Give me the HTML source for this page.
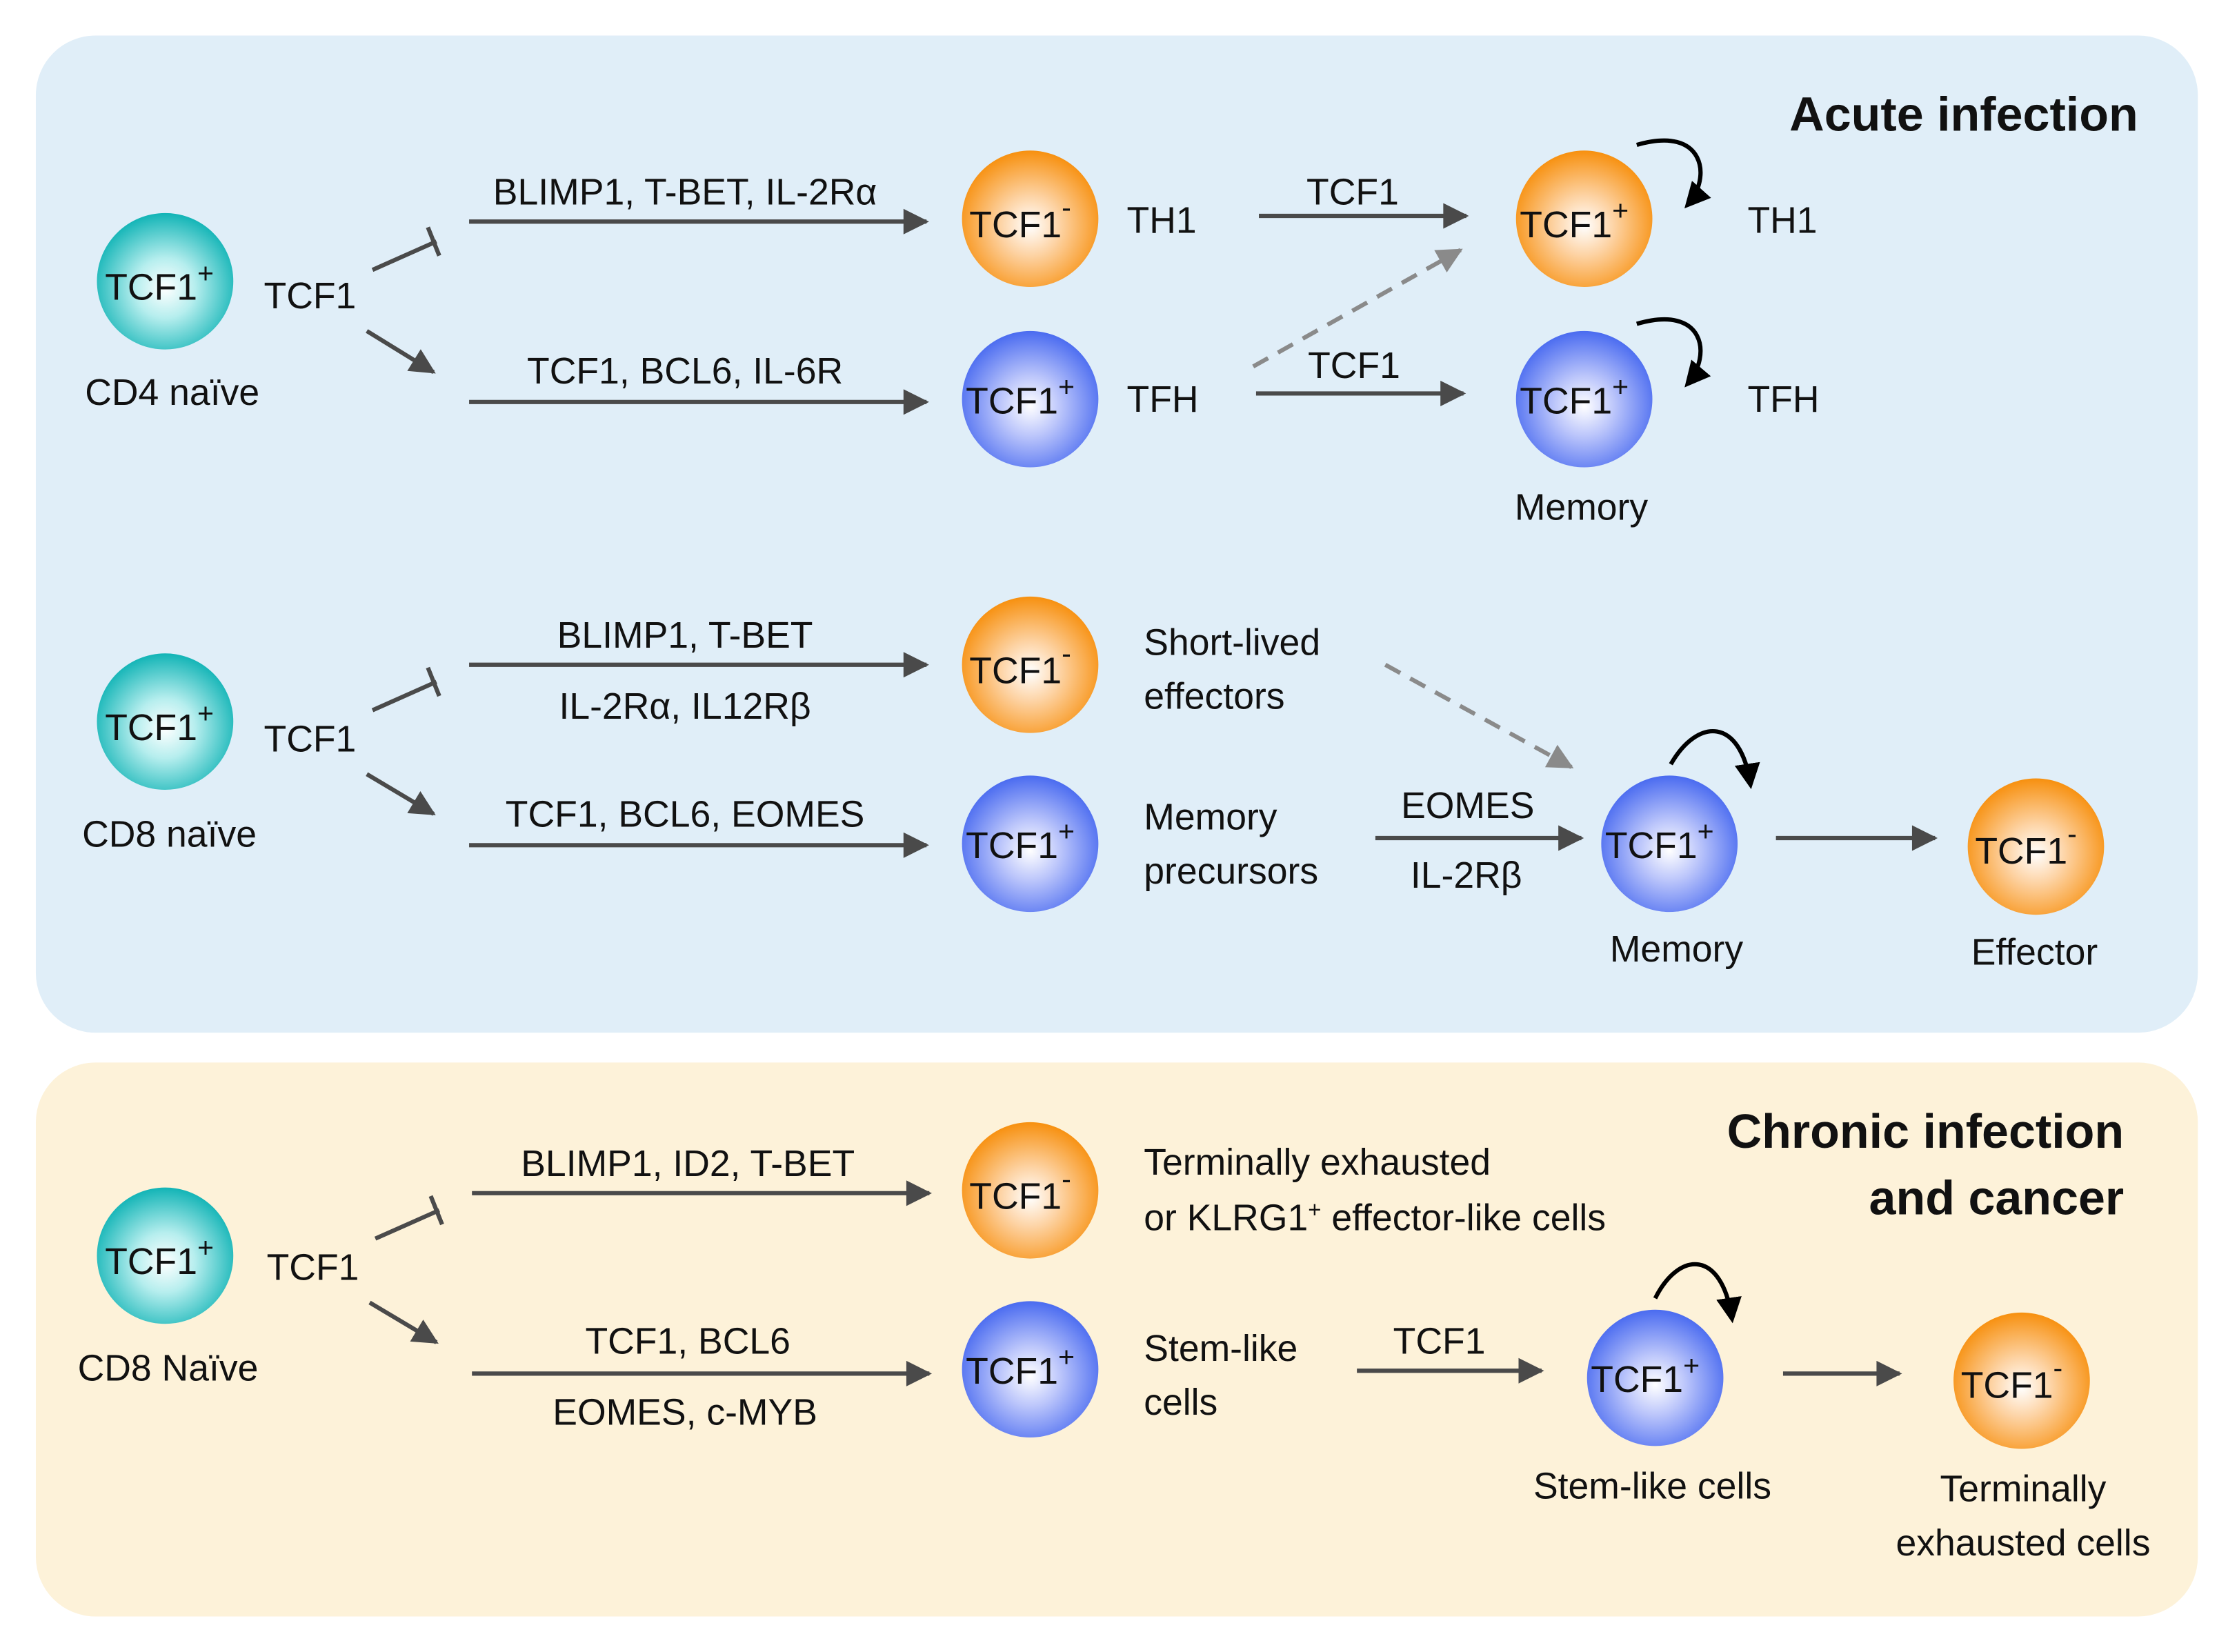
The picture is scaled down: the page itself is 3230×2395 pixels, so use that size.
<!DOCTYPE html>
<html><head><meta charset="utf-8"><style>
html,body{margin:0;padding:0;background:#fff}
svg{display:block}
text{font-family:"Liberation Sans",sans-serif;fill:#111}
</style></head><body>
<svg width="3230" height="2395" viewBox="0 0 1568 1163" xmlns="http://www.w3.org/2000/svg">
<defs>
<radialGradient id="gt" cx="0.5" cy="0.55" r="0.55"><stop offset="0" stop-color="#ffffff"/><stop offset="0.4" stop-color="#b6eeee"/><stop offset="1" stop-color="#12b4b6"/></radialGradient>
<radialGradient id="go" cx="0.5" cy="0.55" r="0.55"><stop offset="0" stop-color="#ffffff"/><stop offset="0.4" stop-color="#fdd3a4"/><stop offset="1" stop-color="#f7900f"/></radialGradient>
<radialGradient id="gb" cx="0.5" cy="0.55" r="0.55"><stop offset="0" stop-color="#ffffff"/><stop offset="0.4" stop-color="#bcc6fb"/><stop offset="1" stop-color="#4a6bf0"/></radialGradient>
<marker id="ahb" viewBox="0 0 10 10" refX="9" refY="5" markerWidth="7" markerHeight="6" orient="auto"><path d="M0,0L10,5L0,10z" fill="#4a4a4a"/></marker>
<marker id="ahg" viewBox="0 0 10 10" refX="9" refY="5" markerWidth="7" markerHeight="6" orient="auto"><path d="M0,0L10,5L0,10z" fill="#8a8a8a"/></marker>
<marker id="ahk" viewBox="0 0 10 10" refX="8" refY="5" markerWidth="6" markerHeight="6" orient="auto"><path d="M0,0L10,5L0,10z" fill="#000"/></marker>
</defs>
<rect x="25" y="25" width="1522" height="702" rx="42" fill="#e0eef8"/>
<rect x="25" y="748" width="1522" height="390" rx="42" fill="#fdf2d9"/>

<g stroke="#4a4a4a" stroke-width="3" fill="none">
<line x1="262" y1="190" x2="307" y2="170"/><line x1="301" y1="160" x2="309" y2="180"/>
<line x1="258" y1="233" x2="305" y2="262" marker-end="url(#ahb)"/>
<line x1="330" y1="156" x2="652" y2="156" marker-end="url(#ahb)"/>
<line x1="330" y1="283" x2="652" y2="283" marker-end="url(#ahb)"/>
<line x1="886" y1="152" x2="1032" y2="152" marker-end="url(#ahb)"/>
<line x1="884" y1="277" x2="1030" y2="277" marker-end="url(#ahb)"/>
<line x1="262" y1="500" x2="307" y2="480"/><line x1="301" y1="470" x2="309" y2="490"/>
<line x1="258" y1="545" x2="305" y2="573" marker-end="url(#ahb)"/>
<line x1="330" y1="468" x2="652" y2="468" marker-end="url(#ahb)"/>
<line x1="330" y1="595" x2="652" y2="595" marker-end="url(#ahb)"/>
<line x1="968" y1="590" x2="1113" y2="590" marker-end="url(#ahb)"/>
<line x1="1250" y1="590" x2="1362" y2="590" marker-end="url(#ahb)"/>
<line x1="264" y1="872" x2="309" y2="852"/><line x1="303" y1="842" x2="311" y2="862"/>
<line x1="260" y1="917" x2="307" y2="945" marker-end="url(#ahb)"/>
<line x1="332" y1="840" x2="654" y2="840" marker-end="url(#ahb)"/>
<line x1="332" y1="967" x2="654" y2="967" marker-end="url(#ahb)"/>
<line x1="955" y1="965" x2="1085" y2="965" marker-end="url(#ahb)"/>
<line x1="1255" y1="967" x2="1337" y2="967" marker-end="url(#ahb)"/>
</g>
<g stroke="#8a8a8a" stroke-width="3" fill="none" stroke-dasharray="12,8">
<line x1="882" y1="258" x2="1028" y2="176" marker-end="url(#ahg)"/>
<line x1="975" y1="468" x2="1106" y2="540" marker-end="url(#ahg)"/>
</g>
<g stroke="#000" stroke-width="3" fill="none">
<path d="M1152,102 C1200,88 1205,125 1188,144" marker-end="url(#ahk)"/>
<path d="M1152,228 C1200,214 1205,250 1188,270" marker-end="url(#ahk)"/>
<path d="M1176,538 C1195,505 1225,505 1232,552" marker-end="url(#ahk)"/>
<path d="M1165,914 C1182,880 1212,880 1219,928" marker-end="url(#ahk)"/>
</g>

<g>
<circle cx="116" cy="198" r="48" fill="url(#gt)"/>
<circle cx="725" cy="154" r="48" fill="url(#go)"/>
<circle cx="1115" cy="154" r="48" fill="url(#go)"/>
<circle cx="725" cy="281" r="48" fill="url(#gb)"/>
<circle cx="1115" cy="281" r="48" fill="url(#gb)"/>
<circle cx="116" cy="508" r="48" fill="url(#gt)"/>
<circle cx="725" cy="468" r="48" fill="url(#go)"/>
<circle cx="725" cy="594" r="48" fill="url(#gb)"/>
<circle cx="1175" cy="594" r="48" fill="url(#gb)"/>
<circle cx="1433" cy="596" r="48" fill="url(#go)"/>
<circle cx="116" cy="884" r="48" fill="url(#gt)"/>
<circle cx="725" cy="838" r="48" fill="url(#go)"/>
<circle cx="725" cy="964" r="48" fill="url(#gb)"/>
<circle cx="1165" cy="970" r="48" fill="url(#gb)"/>
<circle cx="1423" cy="972" r="48" fill="url(#go)"/>
</g>

<g font-size="26" text-anchor="middle">
<text x="112" y="211">TCF1<tspan dy="-12" font-size="20">+</tspan></text>
<text x="718" y="167">TCF1<tspan dy="-14" font-size="20">-</tspan></text>
<text x="1108" y="167">TCF1<tspan dy="-12" font-size="20">+</tspan></text>
<text x="718" y="291">TCF1<tspan dy="-12" font-size="20">+</tspan></text>
<text x="1108" y="291">TCF1<tspan dy="-12" font-size="20">+</tspan></text>
<text x="112" y="521">TCF1<tspan dy="-12" font-size="20">+</tspan></text>
<text x="718" y="481">TCF1<tspan dy="-14" font-size="20">-</tspan></text>
<text x="718" y="604">TCF1<tspan dy="-12" font-size="20">+</tspan></text>
<text x="1168" y="604">TCF1<tspan dy="-12" font-size="20">+</tspan></text>
<text x="1426" y="608">TCF1<tspan dy="-14" font-size="20">-</tspan></text>
<text x="112" y="897">TCF1<tspan dy="-12" font-size="20">+</tspan></text>
<text x="718" y="851">TCF1<tspan dy="-14" font-size="20">-</tspan></text>
<text x="718" y="974">TCF1<tspan dy="-12" font-size="20">+</tspan></text>
<text x="1158" y="980">TCF1<tspan dy="-12" font-size="20">+</tspan></text>
<text x="1416" y="984">TCF1<tspan dy="-14" font-size="20">-</tspan></text>

<text x="121" y="285">CD4 naïve</text>
<text x="218" y="217">TCF1</text>
<text x="482" y="144">BLIMP1, T-BET, IL-2Rα</text>
<text x="482" y="270">TCF1, BCL6, IL-6R</text>
<text x="952" y="144">TCF1</text>
<text x="953" y="266">TCF1</text>
<text x="1113" y="366">Memory</text>

<text x="119" y="596">CD8 naïve</text>
<text x="218" y="529">TCF1</text>
<text x="482" y="456">BLIMP1, T-BET</text>
<text x="482" y="506">IL-2Rα, IL12Rβ</text>
<text x="482" y="582">TCF1, BCL6, EOMES</text>
<text x="1033" y="576">EOMES</text>
<text x="1032" y="625">IL-2Rβ</text>
<text x="1180" y="677">Memory</text>
<text x="1432" y="679">Effector</text>

<text x="118" y="972">CD8 Naïve</text>
<text x="220" y="901">TCF1</text>
<text x="484" y="828">BLIMP1, ID2, T-BET</text>
<text x="484" y="953">TCF1, BCL6</text>
<text x="482" y="1003">EOMES, c-MYB</text>
<text x="1013" y="953">TCF1</text>
<text x="1163" y="1055">Stem-like cells</text>
<text x="1424" y="1057">Terminally</text>
<text x="1424" y="1095">exhausted cells</text>
</g>
<g font-size="26" text-anchor="start">
<text x="793" y="164">TH1</text>
<text x="793" y="290">TFH</text>
<text x="1230" y="164">TH1</text>
<text x="1230" y="290">TFH</text>
<text x="805" y="461">Short-lived</text>
<text x="805" y="499">effectors</text>
<text x="805" y="584">Memory</text>
<text x="805" y="622">precursors</text>
<text x="805" y="827">Terminally exhausted</text>
<text x="805" y="866">or KLRG1<tspan dy="-9" font-size="16">+</tspan><tspan dy="9"> effector-like cells</tspan></text>
<text x="805" y="958">Stem-like</text>
<text x="805" y="996">cells</text>
</g>
<g font-size="34" font-weight="bold" text-anchor="end">
<text x="1505" y="92">Acute infection</text>
<text x="1495" y="808">Chronic infection</text>
<text x="1495" y="855">and cancer</text>
</g>
</svg>
</body></html>
